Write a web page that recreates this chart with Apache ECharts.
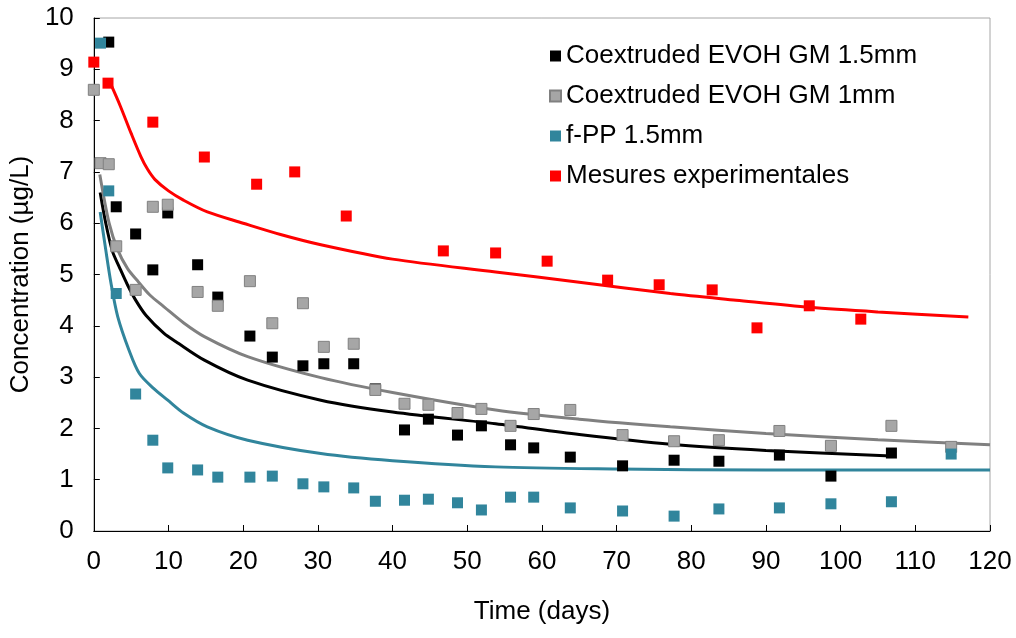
<!DOCTYPE html>
<html>
<head>
<meta charset="utf-8">
<script src="https://cdn.jsdelivr.net/npm/echarts@6/dist/echarts.min.js"></script>
<style>html,body{margin:0;padding:0;background:#fff}#c{width:1016px;height:638px}</style>
</head>
<body>
<div id="c"></div>
<script>
// ---- data ----
const names = ['Coextruded EVOH GM 1.5mm','Coextruded EVOH GM 1mm','f-PP 1.5mm','Mesures experimentales'];
const xTicks = [0,10,20,30,40,50,60,70,80,90,100,110,120];
const yTicks = [0,1,2,3,4,5,6,7,8,9,10];

const blackDays = [2,3,5.6,7.9,9.9,13.9,16.6,20.9,23.9,28,30.8,34.8,37.7,41.6,44.8,48.7,51.9,55.8,58.9,63.8,70.8,77.7,83.7,91.8,98.7,106.8];
const blackVals = [9.53,6.32,5.79,5.09,6.2,5.19,4.56,3.8,3.39,3.22,3.26,3.26,2.77,1.97,2.18,1.87,2.05,1.68,1.62,1.44,1.27,1.38,1.36,1.48,1.07,1.52];

const greyDays = [0,0.9,2,3,5.6,7.9,9.9,13.9,16.6,20.9,23.9,28,30.8,34.8,37.7,41.6,44.8,48.7,51.9,55.8,58.9,63.8,70.8,77.7,83.7,91.8,98.7,106.8,114.8];
const greyVals = [8.6,7.17,7.15,5.55,4.7,6.32,6.36,4.66,4.39,4.87,4.05,4.44,3.59,3.65,2.75,2.48,2.46,2.3,2.38,2.05,2.28,2.36,1.87,1.75,1.77,1.95,1.66,2.05,1.64];

const tealDays = [0.9,2,3,5.6,7.9,9.9,13.9,16.6,20.9,23.9,28,30.8,34.8,37.7,41.6,44.8,48.7,51.9,55.8,58.9,63.8,70.8,77.7,83.7,91.8,98.7,106.8,114.8];
const tealVals = [9.51,6.63,4.63,2.67,1.77,1.23,1.19,1.05,1.05,1.07,0.92,0.86,0.84,0.58,0.6,0.62,0.55,0.41,0.66,0.66,0.45,0.39,0.29,0.43,0.45,0.53,0.57,1.5];

const redDays = [0,1.9,7.9,14.8,21.8,26.9,33.8,46.8,53.8,60.7,68.8,75.7,82.8,88.8,95.8,102.7];
const redVals = [9.14,8.73,7.97,7.29,6.76,7.0,6.14,5.46,5.42,5.26,4.89,4.8,4.7,3.96,4.39,4.13];

// model curves
const blackCurveX = [0.85,1.6,2.5,3.4,4.5,5.6,7,9.4,11,14.8,20.6,30.4,40,53.8,65,77.2,90,106.8];
const blackCurveY = [6.6,6.0,5.45,5.15,4.8,4.5,4.2,3.85,3.69,3.33,2.94,2.55,2.32,2.09,1.88,1.69,1.57,1.46];

const greyCurveX = [0.8,2.05,3.2,4.5,6,7.5,9.4,12,14.8,20.6,30.4,40,53.8,65,77.2,90,105,120];
const greyCurveY = [6.95,6.0,5.48,5.12,4.85,4.6,4.37,4.06,3.79,3.4,2.99,2.7,2.36,2.18,2.03,1.9,1.78,1.68];

const tealCurveX = [0.85,1.6,2.3,3.2,4.7,6.1,8,9.9,12,15.2,20.6,30.4,40,53.8,70,90,120];
const tealCurveY = [6.22,5.48,4.83,4.18,3.53,3.07,2.78,2.55,2.3,2.03,1.77,1.51,1.37,1.25,1.21,1.19,1.19];

const redCurveX = [2.3,3.5,5,6.3,7.2,8.2,10,12,15.2,20,25,30.4,40,53.8,65,77.2,86,95.9,105,117.1];
const redCurveY = [8.7,8.3,7.75,7.3,7.05,6.85,6.63,6.45,6.22,6.0,5.78,5.58,5.3,5.05,4.85,4.63,4.5,4.36,4.27,4.17];

// ---- chart ----
const zip = (a, b) => a.map((v, i) => [v, b[i]]);
const FONT = "'Liberation Sans', Arial, sans-serif";
const colors = {black:'#000000', grey:'#A6A6A6', greyLine:'#808080', teal:'#31859C', red:'#FF0000'};

function curve(x, y, color) {
  return {type:'line', data: zip(x, y), showSymbol:false, symbol:'none', smooth:0.3,
    lineStyle:{color, width:3}, silent:true, z:2, legendHoverLink:false};
}
function pts(name, x, y, color, border) {
  return {type:'scatter', name, data: zip(x, y), symbol:'rect', symbolSize:11,
    itemStyle:{color, opacity:1, borderColor: border || color, borderWidth: border ? 1 : 0}, z:3};
}

const chart = echarts.init(document.getElementById('c'), null, {renderer:'canvas'});
chart.setOption({
  animation:false,
  backgroundColor:'#ffffff',
  textStyle:{fontFamily:FONT},
  grid:{left:93, right:26, top:18, bottom:107, show:true, borderColor:'#A6A6A6', borderWidth:1, containLabel:false},
  legend:{
    data: names, orient:'vertical', left:544, top:38, itemGap:14, itemWidth:11, itemHeight:11,
    icon:'rect', textStyle:{fontSize:26, color:'#000', fontFamily:FONT}, selectedMode:false
  },
  xAxis:{
    type:'value', min:xTicks[0], max:xTicks[xTicks.length-1], interval:xTicks[1]-xTicks[0],
    name:'Time (days)', nameLocation:'middle', nameGap:68,
    nameTextStyle:{fontSize:26, color:'#000', fontFamily:FONT},
    axisLine:{show:true, lineStyle:{color:'#000', width:1}},
    axisTick:{show:true, inside:true, length:6, lineStyle:{color:'#000'}},
    axisLabel:{fontSize:26, color:'#000', margin:18, fontFamily:FONT},
    splitLine:{show:false}
  },
  yAxis:{
    type:'value', min:yTicks[0], max:yTicks[yTicks.length-1], interval:yTicks[1]-yTicks[0],
    name:'Concentration (µg/L)', nameLocation:'middle', nameGap:57,
    nameTextStyle:{fontSize:26, color:'#000', fontFamily:FONT},
    axisLine:{show:true, lineStyle:{color:'#000', width:1}},
    axisTick:{show:true, inside:true, length:6, lineStyle:{color:'#000'}},
    axisLabel:{fontSize:26, color:'#000', margin:20, fontFamily:FONT},
    splitLine:{show:false}
  },
  series:[
    curve(blackCurveX, blackCurveY, colors.black),
    curve(greyCurveX, greyCurveY, colors.greyLine),
    curve(tealCurveX, tealCurveY, colors.teal),
    curve(redCurveX, redCurveY, colors.red),
    pts(names[0], blackDays, blackVals, colors.black),
    pts(names[1], greyDays, greyVals, colors.grey, '#808080'),
    pts(names[2], tealDays, tealVals, colors.teal),
    pts(names[3], redDays, redVals, colors.red)
  ]
});
</script>
</body>
</html>
